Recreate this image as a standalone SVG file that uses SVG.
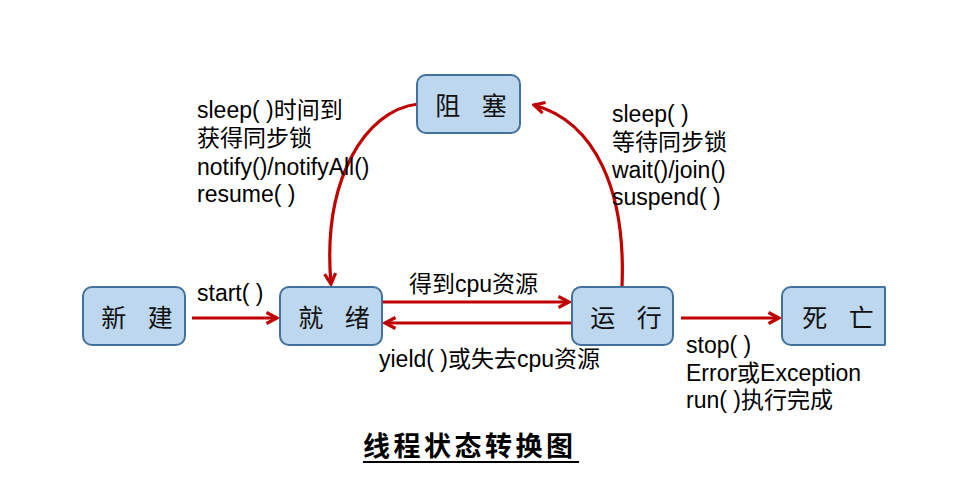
<svg xmlns="http://www.w3.org/2000/svg" width="956" height="501" viewBox="0 0 956 501">
<style>
.box{fill:#bdd7ee;stroke:#41719c;stroke-width:2}
.bt{font-family:"Noto Sans CJK SC","Liberation Serif",serif;font-size:25px;fill:#111;text-anchor:middle;letter-spacing:8px}
.lb{font-family:"Liberation Sans","Noto Sans CJK SC",sans-serif;font-size:23px;fill:#000}
.ar{fill:none;stroke:#c00000;stroke-width:3.2}
.title{font-family:"Noto Sans CJK SC",sans-serif;font-size:27px;font-weight:bold;fill:#000;letter-spacing:3.5px}
</style>
<defs>
<marker id="ah" viewBox="0 0 14 14" refX="12" refY="7" markerWidth="14" markerHeight="14" markerUnits="userSpaceOnUse" orient="auto">
<polyline points="1.5,1.5 12,7 1.5,12.5" fill="none" stroke="#c00000" stroke-width="3.2"/>
</marker>
<clipPath id="clipD"><rect x="770" y="280" width="115.5" height="80"/></clipPath>
</defs>
<rect width="956" height="501" fill="#fff"/>
<g id="connectors">
<line class="ar" x1="192" y1="318" x2="277" y2="318" marker-end="url(#ah)"/>
<line class="ar" x1="383" y1="302" x2="569" y2="302" marker-end="url(#ah)"/>
<line class="ar" x1="571" y1="323" x2="385" y2="323" marker-end="url(#ah)"/>
<line class="ar" x1="681" y1="318" x2="779" y2="318" marker-end="url(#ah)"/>
<path class="ar" d="M418,104 C365,110 322,180 331,284" marker-end="url(#ah)"/>
<path class="ar" d="M622,286 C626,190 595,122 534,105" marker-end="url(#ah)"/>
</g>
<g id="node-new"><rect class="box" x="83" y="287" width="102" height="58" rx="9"/><text class="bt" x="141" y="327">新 建</text></g>
<g id="node-ready"><rect class="box" x="280" y="287" width="102" height="58" rx="9"/><text class="bt" x="338" y="327">就 绪</text></g>
<g id="node-run"><rect class="box" x="572" y="287" width="101" height="58" rx="9"/><text class="bt" x="630" y="327">运 行</text></g>
<g id="node-dead"><rect class="box" x="782" y="287" width="112" height="58" rx="9" clip-path="url(#clipD)"/><line x1="885" y1="287" x2="885" y2="345" stroke="#41719c" stroke-width="2"/><text class="bt" x="842" y="327">死 亡</text></g>
<g id="node-blocked"><rect class="box" x="417" y="75" width="103" height="58" rx="9"/><text class="bt" x="475" y="115">阻 塞</text></g>
<g id="labels">
<text class="lb" x="197" y="118">sleep( )时间到</text>
<text class="lb" x="197" y="146">获得同步锁</text>
<text class="lb" x="197" y="175">notify()/notifyAll()</text>
<text class="lb" x="197" y="202">resume( )</text>
<text class="lb" x="612" y="122">sleep( )</text>
<text class="lb" x="612" y="150">等待同步锁</text>
<text class="lb" x="612" y="178">wait()/join()</text>
<text class="lb" x="612" y="205">suspend( )</text>
<text class="lb" x="197" y="301">start( )</text>
<text class="lb" x="409" y="292">得到cpu资源</text>
<text class="lb" x="379" y="367">yield( )或失去cpu资源</text>
<text class="lb" x="686" y="353">stop( )</text>
<text class="lb" x="686" y="381">Error或Exception</text>
<text class="lb" x="686" y="408">run( )执行完成</text>
</g>
<g id="title">
<text class="title" x="363" y="456">线程状态转换图</text>
<line x1="363" y1="462" x2="579" y2="462" stroke="#000" stroke-width="2"/>
</g>
</svg>
